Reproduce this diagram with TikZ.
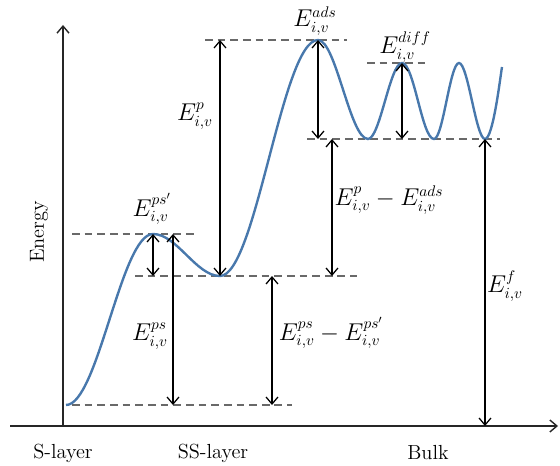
\documentclass[tikz,border=0pt]{standalone}
\usepackage{amsmath}
\usetikzlibrary{arrows.meta}
\definecolor{curveblue}{RGB}{72,120,172}
\definecolor{dashgray}{RGB}{105,105,105}

\begin{document}
\begin{tikzpicture}[x=0.025cm,y=-0.025cm,
   >={Straight Barb[length=5pt,width=8.5pt]},
   axis/.style={line width=1pt,draw=black!85,->},
   dim/.style={line width=0.9pt,<->},
   level/.style={dashgray,line width=1pt,dash pattern=on 5.5pt off 3.5pt},
   curve/.style={curveblue,line width=1.7pt},
   lbl/.style={inner sep=1pt,font=\fontsize{16}{19}\selectfont},
   txt/.style={inner sep=1pt,font=\fontsize{14.5}{17}\selectfont}]
   \useasboundingbox (0,0) rectangle (560,466);
   % axes
   \coordinate (o)    at (63,426);
   \coordinate (ytop) at (63,25);
   \coordinate (xl)   at (10,426);
   \coordinate (xr)   at (558,426);
   \draw[axis] (o) -- (ytop);
   \draw[axis] (xl) -- (xr);
   \node[txt,rotate=90] (energy) at (39,232) {Energy};
   \node[txt] (slayer)  at (63,453)  {S-layer};
   \node[txt] (sslayer) at (213,453) {SS-layer};
   \node[txt] (bulk)    at (428,453) {Bulk};
   % extrema of the energy curve
   \coordinate (m0) at (66,405);
   \coordinate (p1) at (153,234);
   \coordinate (m1) at (220,276);
   \coordinate (p2) at (318,40);
   \coordinate (m2) at (368,139);
   \coordinate (p3) at (402,63);
   \coordinate (m3) at (434,139);
   \coordinate (p4) at (459,63);
   \coordinate (m4) at (485,139);
   \coordinate (e)  at (502,67);
   % levels
   \draw[level] (72,405) -- (292,405);
   \draw[level] (135,276) -- (357,276);
   \draw[level] (72,234) -- (197,234);
   \draw[level] (307,139) -- (500,139);
   \draw[level] (205,40) -- (347,40);
   \draw[level] (367,63) -- (426,63);
   % curve
   \draw[curve] (m0) .. controls +(32,0) and +(-32,0) .. (p1)
                .. controls +(24,0) and +(-24,0) .. (m1)
                .. controls +(36,0) and +(-36,0) .. (p2)
                .. controls +(18,0) and +(-18,0) .. (m2)
                .. controls +(12,0) and +(-12,0) .. (p3)
                .. controls +(12,0) and +(-12,0) .. (m3)
                .. controls +(9,0) and +(-9,0) .. (p4)
                .. controls +(9,0) and +(-9,0) .. (m4)
                .. controls +(8,0) and +(-2,12) .. (e);
   % energy differences
   \coordinate (a2) at (173,234);
   \coordinate (a4) at (272,276);
   \coordinate (a5) at (332,276);
   \draw[dim] (m1) -- (m1 |- p2);
   \draw[dim] (p1) -- (p1 |- m1);
   \draw[dim] (a2) -- (a2 |- m0);
   \draw[dim] (a4) -- (a4 |- m0);
   \draw[dim] (a5) -- (a5 |- m2);
   \draw[dim] (p2) -- (p2 |- m2);
   \draw[dim] (p3) -- (p3 |- m3);
   \draw[dim] (m4) -- (m4 |- o);
   % labels
   \node[lbl] (ep)    at (195,116) {$E^{p}_{i,v}$};
   \node[lbl] (epsp)  at (152,209) {$E^{ps'}_{i,v}$};
   \node[lbl] (eps)   at (150,336) {$E^{ps}_{i,v}$};
   \node[lbl] (eads)  at (315,21)  {$E^{ads}_{i,v}$};
   \node[lbl] (ediff) at (405,47)  {$E^{diff}_{i,v}$};
   \node[lbl] (epads) at (389,200) {$E^{p}_{i,v}-E^{ads}_{i,v}$};
   \node[lbl] (epsd)  at (331,333) {$E^{ps}_{i,v}-E^{ps'}_{i,v}$};
   \node[lbl] (ef)    at (505,286) {$E^{f}_{i,v}$};
\end{tikzpicture}
\end{document}
